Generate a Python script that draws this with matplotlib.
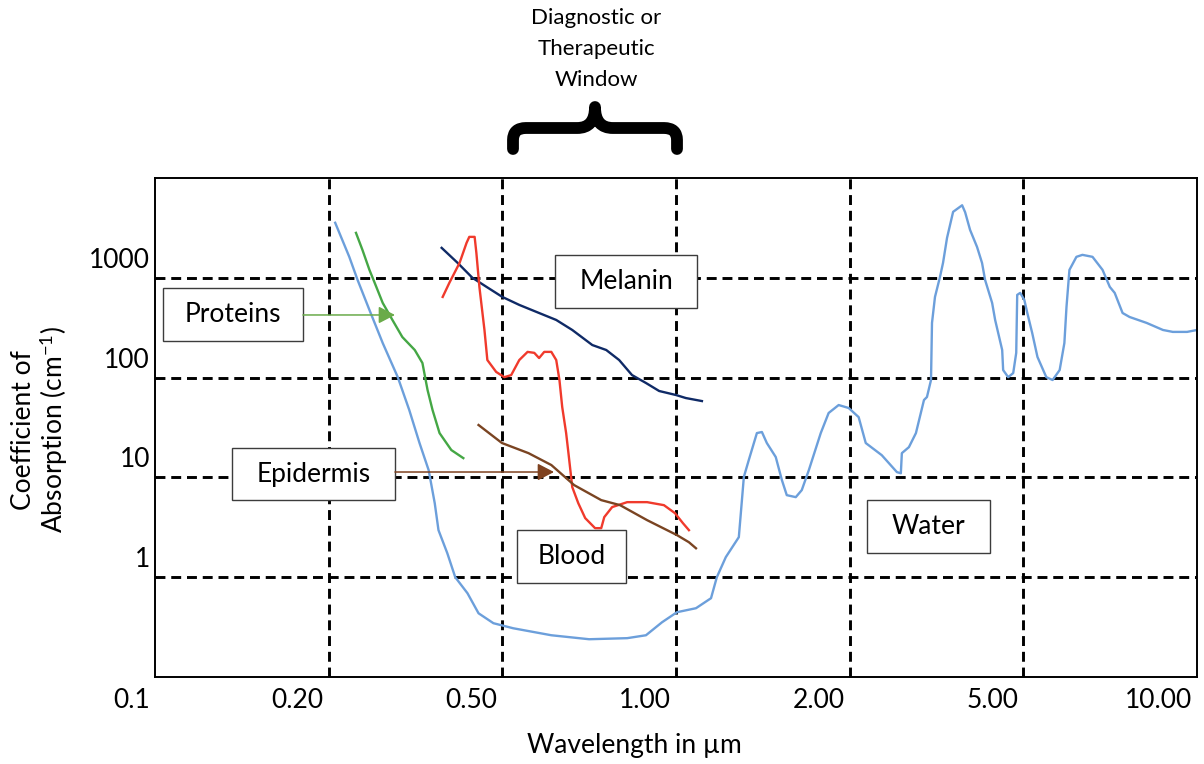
import matplotlib
matplotlib.use("Agg")
import numpy as np
import matplotlib.pyplot as plt
from matplotlib.patches import Rectangle, FancyArrowPatch, PathPatch
from matplotlib.path import Path
from matplotlib.transforms import ScaledTranslation

plt.rcParams['font.family'] = ['Lato', 'DejaVu Sans']
plt.rcParams['mathtext.fontset'] = 'custom'
plt.rcParams['mathtext.rm'] = 'Lato'
plt.rcParams['mathtext.it'] = 'Lato:italic'
plt.rcParams['mathtext.bf'] = 'Lato:bold'

# ---- axis ticks ----
tick_um = [0.1, 0.2, 0.5, 1.0, 2.0, 5.0, 10.0]
tick_labels = ['0.1', '0.20', '0.50', '1.00', '2.00', '5.00', '10.00']
abs_ticks = [1, 10, 100, 1000]
abs_labels = ['1', '10', '100', '1000']

# ---- absorption spectra (wavelength in um, coefficient in 1/cm) ----
water_um = [0.207, 0.223, 0.233, 0.248, 0.266, 0.288, 0.306, 0.323, 0.339, 0.350,
            0.357, 0.374, 0.390, 0.416, 0.441, 0.477, 0.522, 0.608, 0.707, 0.823,
            0.887, 0.946, 1.004, 1.083, 1.150, 1.177, 1.220, 1.285, 1.301, 1.311,
            1.337, 1.381, 1.409, 1.437, 1.489, 1.526, 1.556, 1.613, 1.652, 1.699,
            1.782, 1.839, 1.914, 1.992, 2.097, 2.177, 2.369, 2.566, 2.620, 2.634,
            2.734, 2.837, 2.960, 3.007, 3.072, 3.088, 3.137, 3.221, 3.273, 3.343,
            3.452, 3.620, 3.678, 3.775, 3.916, 4.021, 4.086, 4.241, 4.309, 4.472,
            4.495, 4.616, 4.740, 4.816, 4.841, 4.918, 5.02, 5.08, 5.18, 5.29,
            5.48, 5.62, 5.78, 5.89, 5.94, 6.01, 6.18, 6.33, 6.59, 6.86,
            7.06, 7.20, 7.43, 7.64, 8.18, 8.73, 9.08, 9.61, 10.0]
water_abs = [3560, 1620, 950, 476, 222, 101, 47.3, 22.1, 11.8, 5.52,
             2.96, 1.74, 1.00, 0.691, 0.435, 0.346, 0.308, 0.262, 0.239, 0.245,
             0.262, 0.354, 0.446, 0.489, 0.616, 1.00, 1.59, 2.52, 5.92, 10.1,
             14.9, 27.8, 28.5, 22.1, 16.0, 9.40, 6.64, 6.34, 7.46, 11.8,
             27.8, 44.2, 53.1, 49.6, 40.2, 22.1, 16.7, 11.3, 11.0, 17.5,
             20.1, 27.8, 59.6, 63.9, 94.6, 353, 643, 1021, 1410, 2512,
             4581, 5330, 4540, 3020, 2041, 1410, 953, 560, 378, 189,
             119, 101, 111, 177, 674, 706, 600, 444, 280, 161,
             101, 94.6, 119, 222, 511, 1200, 1622, 1698, 1622, 1200,
             811, 706, 444, 405, 353, 300, 287, 287, 300]

protein_um = [0.231, 0.239, 0.248, 0.255, 0.266, 0.280, 0.295, 0.315, 0.328, 0.337,
              0.346, 0.359, 0.382, 0.407]
protein_abs = [2820, 1905, 1200, 889, 560, 378, 255, 189, 140, 75.1,
               47.3, 27.8, 18.8, 15.6]

melanin_um = [0.363, 0.395, 0.427, 0.460, 0.500, 0.535, 0.579, 0.620, 0.661, 0.716,
              0.757, 0.797, 0.839, 0.887, 0.935, 1.000, 1.040, 1.109]
melanin_abs = [1995, 1410, 1000, 811, 643, 535, 444, 378, 300, 212,
               189, 150, 106, 88.3, 73.4, 66.9, 62.4, 58.2]

blood_um = [0.365, 0.378, 0.399, 0.414, 0.420, 0.432, 0.436, 0.443, 0.455, 0.462,
            0.484, 0.504, 0.518, 0.535, 0.553, 0.568, 0.579, 0.591, 0.608, 0.620,
            0.628, 0.635, 0.645, 0.651, 0.661, 0.677, 0.696, 0.724, 0.742, 0.751,
            0.775, 0.823, 0.891, 0.953, 0.996, 1.028, 1.053]
blood_abs = [643, 889, 1410, 2239, 2571, 2571, 1778, 811, 300, 150,
             114, 101, 106, 150, 181, 177, 157, 181, 181, 150,
             94.6, 50.7, 27.8, 17.5, 7.99, 5.52, 3.91, 3.10, 3.10, 4.00,
             5.04, 5.65, 5.65, 5.27, 4.38, 3.48, 2.96]

epidermis_um = [0.441, 0.499, 0.555, 0.608, 0.666, 0.742, 0.800, 0.891, 1.004, 1.053, 1.083]
epidermis_abs = [33.5, 22.1, 17.5, 13.3, 8.37, 5.92, 5.27, 3.73, 2.64, 2.24, 1.95]

# ---- wavelength scale: equal spacing between the labelled wavelengths ----
_log_ticks = np.log10(tick_um)
_idx = np.arange(len(tick_um), dtype=float)


def wl_forward(x):
    x = np.clip(np.asarray(x, dtype=float), 1e-6, None)
    return np.interp(np.log10(x), _log_ticks, _idx)


def wl_inverse(p):
    return 10 ** np.interp(np.asarray(p, dtype=float), _idx, _log_ticks)


fig = plt.figure(figsize=(12.04, 7.64), dpi=100)
ax = fig.add_axes([155 / 1204, 1 - 677 / 764, 1042 / 1204, 499 / 764])

ax.set_xscale('function', functions=(wl_forward, wl_inverse))
ax.set_yscale('log')
ax.set_xlim(0.1, 10)
ax.set_ylim(0.1, 1e4)
ax.set_xticks(tick_um, tick_labels)
ax.set_yticks(abs_ticks, abs_labels)
ax.minorticks_off()
ax.tick_params(axis='both', length=0, labelsize=19)
ax.tick_params(axis='x', pad=8)
ax.tick_params(axis='y', pad=3.5)

for lbl in ax.get_xticklabels():
    lbl.set_ha('right')
    lbl.set_transform(lbl.get_transform() + ScaledTranslation(-0.05, 0, fig.dpi_scale_trans))
for lbl in ax.get_yticklabels():
    lbl.set_transform(lbl.get_transform() + ScaledTranslation(0, 0.20, fig.dpi_scale_trans))

# dashed grid on the interior wavelengths and on every labelled decade
grid_style = dict(color='black', linewidth=2.1, linestyle=(0, (3.4, 2.0)), zorder=1)
for w in tick_um[1:-1]:
    ax.axvline(w, **grid_style)
for a in abs_ticks:
    ax.axhline(a, **grid_style)

for sp in ax.spines.values():
    sp.set_linewidth(1.4)
    sp.set_color('black')
    sp.set_zorder(8)

# ---- spectra ----
lw = 1.7
ax.plot(water_um, water_abs, color='#6c9fdb', lw=lw, zorder=3, solid_joinstyle='round')
ax.plot(protein_um, protein_abs, color='#45a745', lw=lw, zorder=3, solid_joinstyle='round')
ax.plot(melanin_um, melanin_abs, color='#0f2a66', lw=lw, zorder=3, solid_joinstyle='round')
ax.plot(blood_um, blood_abs, color='#f03a2c', lw=lw, zorder=3, solid_joinstyle='round')
ax.plot(epidermis_um, epidermis_abs, color='#7a4422', lw=lw, zorder=3, solid_joinstyle='round')


# ---- labelled boxes ----
def label_box(text, x0, y0, w, h):
    ax.add_patch(Rectangle((x0, y0), w, h, transform=ax.transAxes, facecolor='white',
                           edgecolor='#3c3c3c', linewidth=1.0, zorder=6))
    ax.text(x0 + w / 2, y0 + h / 2, text, transform=ax.transAxes, ha='center',
            va='center', fontsize=19, zorder=7)


label_box('Proteins', 0.0077, 0.6733, 0.1344, 0.1062)
label_box('Melanin', 0.3839, 0.7395, 0.1363, 0.1062)
label_box('Epidermis', 0.0739, 0.3547, 0.1564, 0.1042)
label_box('Blood', 0.3474, 0.1884, 0.1046, 0.1062)
label_box('Water', 0.6833, 0.2485, 0.1180, 0.1062)

# ---- pointer arrows ----
for (xa, xb, y, col) in [(0.1420, 0.2303, 0.7255, '#6aab4a'),
                         (0.2303, 0.3829, 0.4108, '#7f4220')]:
    ax.add_patch(FancyArrowPatch((xa, y), (xb, y), transform=ax.transAxes,
                                 arrowstyle='-|>,head_length=0.5,head_width=0.26',
                                 mutation_scale=20, color=col, lw=1.1,
                                 shrinkA=0, shrinkB=0, zorder=7))

# ---- axis titles ----
ax.set_xlabel('Wavelength in µm', fontsize=19)
ax.xaxis.label.set_va('center')
ax.xaxis.set_label_coords(0.4597, -0.1363)
ax.set_ylabel('Coefficient of\nAbsorption (cm$^{-1}$)', fontsize=19, linespacing=1.1)
ax.yaxis.label.set_va('center')
ax.yaxis.label.set_ha('center')
ax.yaxis.set_label_coords(-0.110, 0.495)

# ---- window annotation above the plot ----
fig.text(596 / 1204, 1 - 49 / 764, 'Diagnostic or\nTherapeutic\nWindow',
         ha='center', va='center', fontsize=16, linespacing=1.68)


def fpt(x, y):
    return (x / 1204, 1 - y / 764)


brace_pts = [(513, 149), (513, 140), (513, 128), (526, 128), (577, 128),
             (589, 128), (595, 121), (595, 107),
             (595, 121), (601, 128), (613, 128),
             (664, 128), (677, 128), (677, 140), (677, 149)]
brace_codes = [Path.MOVETO, Path.LINETO, Path.CURVE3, Path.CURVE3, Path.LINETO,
               Path.CURVE4, Path.CURVE4, Path.CURVE4,
               Path.CURVE4, Path.CURVE4, Path.CURVE4,
               Path.LINETO, Path.CURVE3, Path.CURVE3, Path.LINETO]
brace = Path([fpt(*p) for p in brace_pts], brace_codes)
fig.add_artist(PathPatch(brace, transform=fig.transFigure, facecolor='none',
                         edgecolor='black', linewidth=8.5, capstyle='round',
                         joinstyle='round'))

fig.savefig('out.png', dpi=100)
